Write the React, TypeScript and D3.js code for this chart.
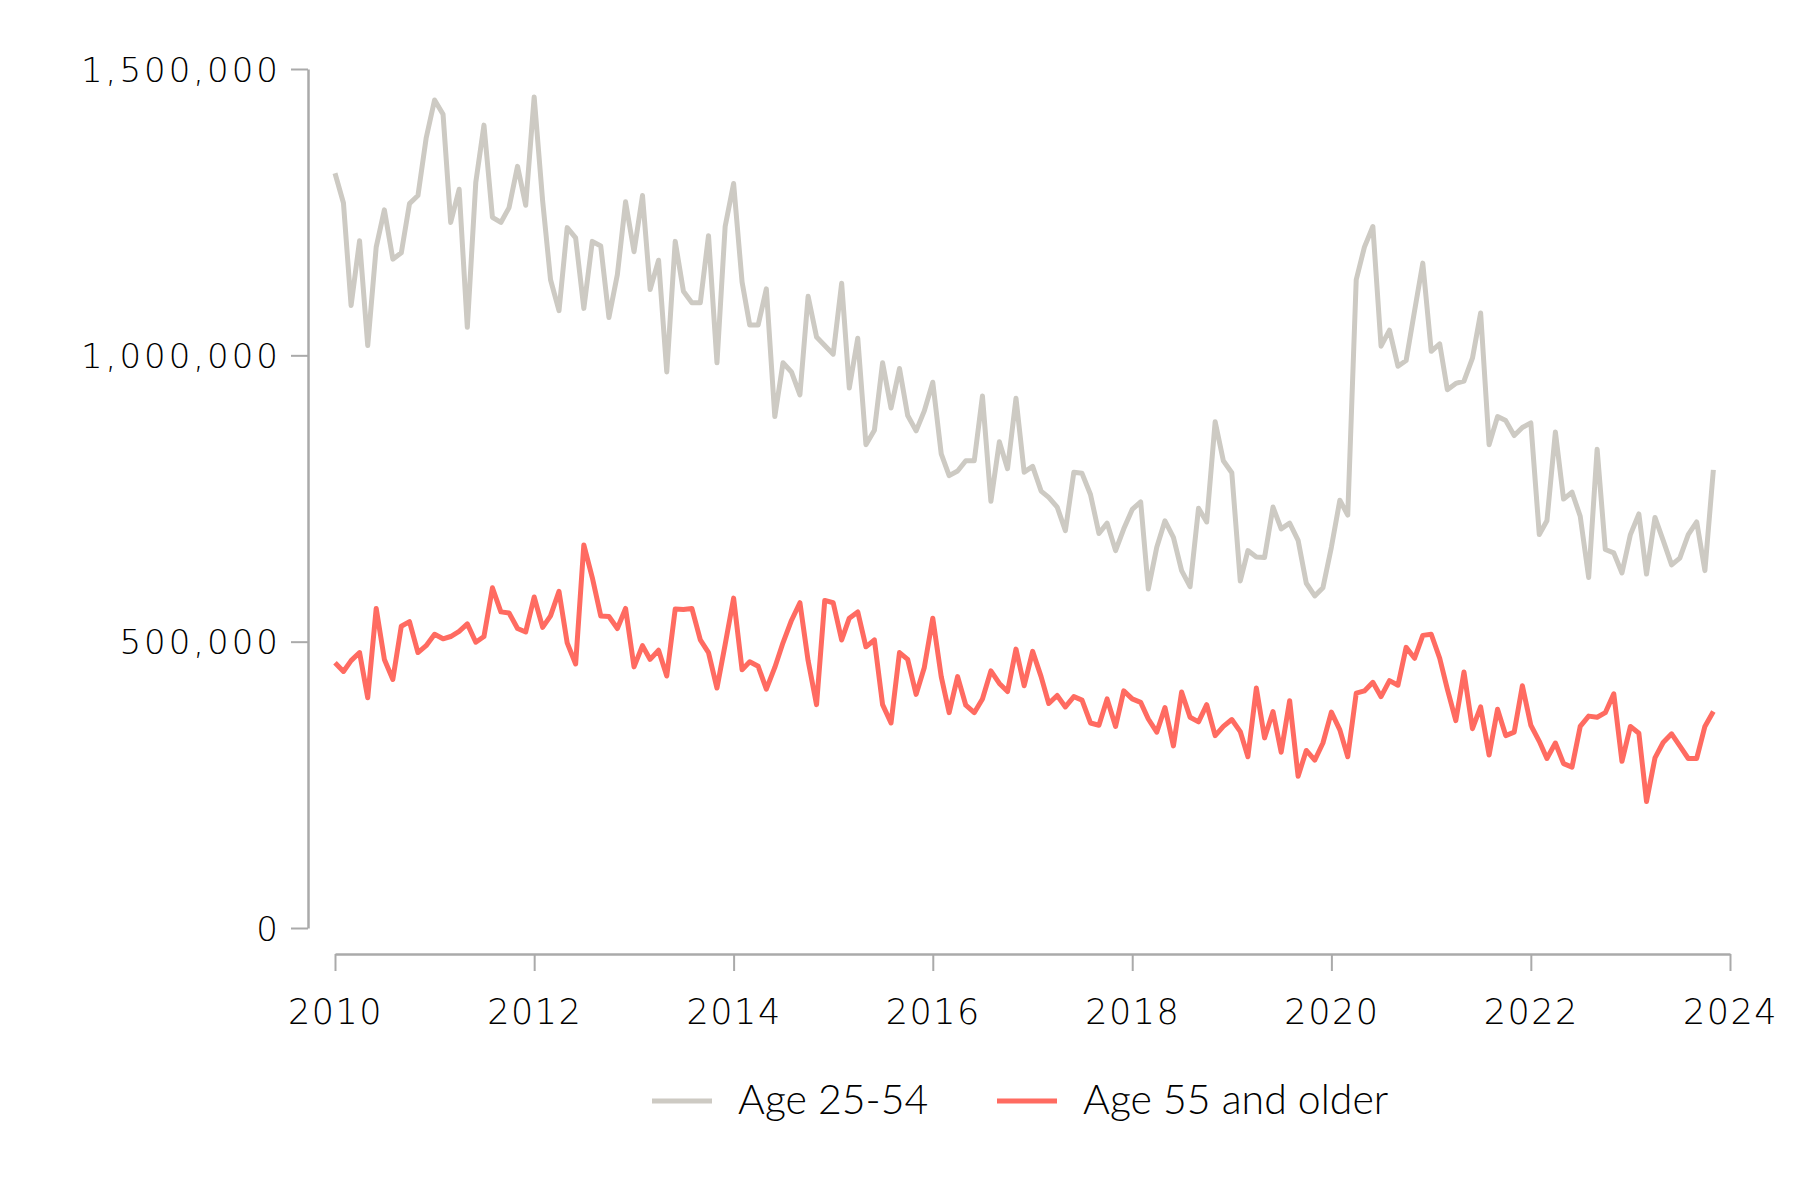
import * as d3 from "d3";
import { useEffect, useRef } from "react";

const WIDTH = 1800;
const HEIGHT = 1200;

// monthly job openings (thousands), Jan 2010 - Nov 2023
const months = d3.timeMonth.range(new Date(2010, 0, 1), new Date(2023, 11, 1));

const age2554 = [
    1318, 1266, 1087, 1200, 1017, 1189, 1254, 1168, 1179, 1265, 1279, 1379,
    1446, 1421, 1232, 1290, 1049, 1302, 1402, 1241, 1232, 1258, 1330, 1262,
    1451, 1270, 1132, 1078, 1223, 1205, 1082, 1199, 1191, 1066, 1141, 1268,
    1181, 1279, 1115, 1166, 971, 1199, 1112, 1092, 1092, 1209, 987, 1225,
    1300, 1128, 1053, 1053, 1116, 893, 987, 971, 931, 1103, 1032, 1017,
    1002, 1126, 943, 1030, 844, 869, 987, 908, 977, 895, 868, 903,
    953, 828, 790, 798, 816, 816, 929, 745, 849, 802, 925, 796,
    806, 763, 752, 735, 694, 796, 794, 757, 689, 707, 659, 697,
    731, 744, 592, 665, 711, 682, 624, 596, 733, 709, 884, 816,
    795, 606, 659, 648, 647, 735, 697, 707, 677, 602, 580, 594,
    665, 747, 721, 1132, 1189, 1225, 1016, 1044, 981, 991, 1078, 1161,
    1007, 1020, 940, 951, 955, 995, 1074, 844, 893, 886, 860, 874,
    882, 687, 711, 866, 749, 761, 719, 612, 836, 661, 655, 620,
    687, 723, 618, 717, 677, 634, 646, 687, 709, 624, 800,
];

const age55 = [
    463, 448, 467, 481, 402, 558, 469, 434, 527, 535, 481, 493,
    513, 505, 509, 518, 531, 499, 509, 594, 552, 550, 523, 517,
    578, 525, 545, 588, 498, 461, 669, 612, 545, 544, 523, 558,
    456, 493, 469, 485, 440, 557, 556, 558, 503, 481, 419, 495,
    576, 451, 465, 457, 417, 455, 498, 537, 568, 467, 390, 572,
    568, 503, 541, 552, 491, 503, 390, 358, 481, 469, 408, 455,
    541, 439, 376, 439, 389, 376, 400, 449, 427, 413, 487, 423,
    483, 439, 392, 406, 386, 404, 398, 358, 354, 400, 352, 414,
    400, 394, 365, 342, 385, 318, 412, 368, 360, 390, 336, 352,
    364, 343, 299, 419, 332, 378, 307, 397, 265, 310, 293, 323,
    377, 346, 299, 410, 414, 429, 404, 432, 424, 490, 471, 511,
    513, 471, 417, 362, 447, 348, 386, 302, 382, 336, 342, 423,
    354, 326, 296, 323, 287, 281, 352, 370, 368, 376, 409, 291,
    352, 340, 221, 297, 324, 339, 318, 296, 296, 352, 378,
];

const yearTicks = [2010, 2012, 2014, 2016, 2018, 2020, 2022, 2024];
const valueTicks = [0, 500000, 1000000, 1500000];

const series = [
    { key: "prime", label: "Age 25-54", color: "#cdcac3", values: age2554 },
    { key: "older", label: "Age 55 and older", color: "#ff6b61", values: age55 },
];

const FONT = "'DejaVu Sans', sans-serif";
const AXIS = "#aaaaaa";

export default function App() {
    const svgRef = useRef<SVGSVGElement | null>(null);

    useEffect(() => {
        document.body.style.margin = "0";
        if (!svgRef.current) return;
        const svg = d3.select(svgRef.current);
        svg.selectAll("*").remove();

        const x = d3.scaleTime().domain([new Date(2010, 0, 1), new Date(2024, 0, 1)]).range([335, 1730]);
        const y = d3.scaleLinear().domain([0, 1500000]).range([928, 69]);

        // y axis
        const gy = svg
            .append("g")
            .attr("transform", "translate(308,0)")
            .call(d3.axisLeft(y).tickValues(valueTicks).tickSize(17).tickSizeOuter(0).tickPadding(10).tickFormat((d) => d3.format(",")(Number(d))));
        gy.select(".domain").attr("stroke", AXIS).attr("stroke-width", 2.5);
        gy.selectAll(".tick line").attr("stroke", AXIS).attr("stroke-width", 2);
        gy.selectAll(".tick text")
            .attr("font-family", FONT)
            .attr("font-weight", 300)
            .attr("font-size", 34)
            .attr("letter-spacing", 3)
            .attr("fill", "#000")
            .attr("dy", "0.36em");
        gy.attr("font-family", null).attr("font-size", null);

        // x axis
        const gx = svg
            .append("g")
            .attr("transform", "translate(0,954)")
            .call(
                d3
                    .axisBottom(x)
                    .tickValues(yearTicks.map((yr) => new Date(yr, 0, 1)))
                    .tickSize(17)
                    .tickSizeOuter(0)
                    .tickFormat((d) => String((d as Date).getFullYear()))
            );
        gx.select(".domain").attr("stroke", AXIS).attr("stroke-width", 2.5);
        gx.selectAll(".tick line").attr("stroke", AXIS).attr("stroke-width", 2);
        gx.selectAll(".tick text")
            .attr("font-family", FONT)
            .attr("font-weight", 300)
            .attr("font-size", 35)
            .attr("letter-spacing", 1.5)
            .attr("fill", "#000")
            .attr("y", 70)
            .attr("dy", null);
        gx.attr("font-family", null).attr("font-size", null);

        const line = d3
            .line<number>()
            .x((_, i) => x(months[i]))
            .y((d) => y(d * 1000));

        series.forEach((s) => {
            svg.append("path")
                .datum(s.values)
                .attr("fill", "none")
                .attr("stroke", s.color)
                .attr("stroke-width", 5)
                .attr("stroke-linejoin", "round")
                .attr("d", line);
        });

        // legend
        const legendX = [652, 997];
        const legend = svg
            .append("g")
            .selectAll("g")
            .data(series)
            .enter()
            .append("g")
            .attr("transform", (_, i) => `translate(${legendX[i]},1101)`);
        legend
            .append("line")
            .attr("x1", 0)
            .attr("x2", 60)
            .attr("stroke", (d) => d.color)
            .attr("stroke-width", 5);
        legend
            .append("text")
            .attr("x", 86)
            .attr("y", 13)
            .attr("font-family", "Lato, sans-serif")
            .attr("font-weight", 300)
            .attr("font-size", 41)
            .attr("fill", "#000")
            .text((d) => d.label);
    }, []);

    return <svg ref={svgRef} width={WIDTH} height={HEIGHT} style={{ display: "block", background: "#fff" }} />;
}
